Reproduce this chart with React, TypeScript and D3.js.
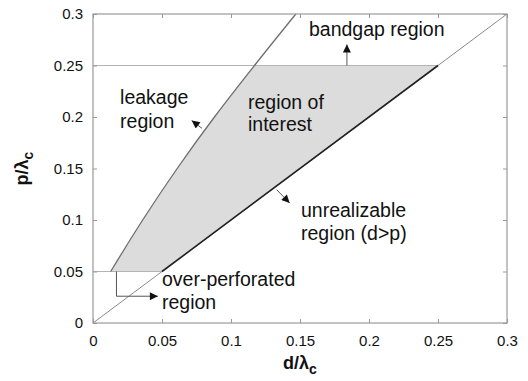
import * as d3 from "d3";
import React, { useEffect, useRef } from "react";

// axis ticks
const xTicks = [0, 0.05, 0.1, 0.15, 0.2, 0.25, 0.3];
const yTicks = [0, 0.05, 0.1, 0.15, 0.2, 0.25, 0.3];

// leakage boundary (d/λc, p/λc)
const leakageD = [0.0128, 0.036, 0.061, 0.088, 0.117, 0.147];
const leakageP = [0.05, 0.1, 0.15, 0.2, 0.25, 0.3];

// horizontal limits
const overPerfP = 0.05;
const bandgapP = 0.25;

// labels: text lines, anchor in data units (d, p of each baseline)
const labelText = [
  ["bandgap region"],
  ["leakage", "region"],
  ["region of", "interest"],
  ["unrealizable", "region (d>p)"],
  ["over-perforated", "region"],
];
const labelD = [0.1565, 0.0196, 0.1123, 0.1507, 0.05];
const labelP = [
  [0.2786],
  [0.2126, 0.1893],
  [0.2078, 0.1864],
  [0.1029, 0.0806],
  [0.0359, 0.0136],
];

// arrows: polyline points in data units, last point is the tip
const arrows: [number, number][][] = [
  [[0.184, 0.25], [0.184, 0.2705]],
  [[0.079, 0.189], [0.0715, 0.1965]],
  [[0.133, 0.1295], [0.1425, 0.1165]],
  [[0.017, 0.05], [0.017, 0.026], [0.047, 0.026]],
];

const W = 528;
const H = 381;
const margin = { top: 14, right: 21, bottom: 58, left: 93 };
const FONT = "'Liberation Sans', Arial, Helvetica, sans-serif";

const App: React.FC = () => {
  const svgRef = useRef<SVGSVGElement>(null);

  useEffect(() => {
    const svg = d3.select(svgRef.current);
    svg.selectAll("*").remove();

    const innerW = W - margin.left - margin.right;
    const innerH = H - margin.top - margin.bottom;

    const x = d3.scaleLinear().domain([0, 0.3]).range([0, innerW]);
    const y = d3.scaleLinear().domain([0, 0.3]).range([innerH, 0]);

    const defs = svg.append("defs");
    defs
      .append("marker")
      .attr("id", "head")
      .attr("viewBox", "0 0 10 10")
      .attr("refX", 10)
      .attr("refY", 5)
      .attr("markerWidth", 10)
      .attr("markerHeight", 8)
      .attr("markerUnits", "userSpaceOnUse")
      .attr("orient", "auto")
      .append("path")
      .attr("d", "M0,0 L10,5 L0,10 Z")
      .attr("fill", "#111");

    const g = svg.append("g").attr("transform", `translate(${margin.left},${margin.top})`);

    // shaded region of interest
    const curve = leakageD.map((d, i) => [d, leakageP[i]] as [number, number]);
    const inside = curve.filter((c) => c[1] >= overPerfP && c[1] <= bandgapP);
    const poly: [number, number][] = [...inside, [bandgapP, bandgapP], [overPerfP, overPerfP]];
    g.append("path")
      .attr("d", d3.line<[number, number]>().x((d) => x(d[0])).y((d) => y(d[1])).curve(d3.curveLinearClosed)(poly))
      .attr("fill", "#dcdcdc")
      .attr("stroke", "none");

    // horizontal limits
    g.append("line")
      .attr("x1", 0)
      .attr("x2", x(bandgapP))
      .attr("y1", y(bandgapP))
      .attr("y2", y(bandgapP))
      .attr("stroke", "#b4b4b4")
      .attr("stroke-width", 1.2);
    g.append("line")
      .attr("x1", 0)
      .attr("x2", x(overPerfP))
      .attr("y1", y(overPerfP))
      .attr("y2", y(overPerfP))
      .attr("stroke", "#b4b4b4")
      .attr("stroke-width", 1.2);

    // d = p line
    g.append("line")
      .attr("x1", x(0))
      .attr("y1", y(0))
      .attr("x2", x(0.3))
      .attr("y2", y(0.3))
      .attr("stroke", "#8a8a8a")
      .attr("stroke-width", 1);
    g.append("line")
      .attr("x1", x(overPerfP))
      .attr("y1", y(overPerfP))
      .attr("x2", x(bandgapP))
      .attr("y2", y(bandgapP))
      .attr("stroke", "#222")
      .attr("stroke-width", 1.6);

    // leakage curve
    g.append("path")
      .attr("d", d3.line<[number, number]>().x((d) => x(d[0])).y((d) => y(d[1])).curve(d3.curveCatmullRom)(curve))
      .attr("fill", "none")
      .attr("stroke", "#6e6e6e")
      .attr("stroke-width", 1.3);

    // axes: ticks inward on all four sides
    const tickStyle = (sel: d3.Selection<SVGGElement, unknown, null, undefined>) => {
      sel.select(".domain").remove();
      sel.selectAll(".tick line").attr("stroke", "#999");
      sel
        .selectAll(".tick text")
        .attr("font-family", FONT)
        .attr("font-size", 15)
        .attr("fill", "#111");
    };
    g.append("g")
      .attr("transform", `translate(0,${innerH})`)
      .call(d3.axisBottom(x).tickValues(xTicks).tickSize(-4).tickPadding(12).tickFormat((d) => String(+d)))
      .call(tickStyle);
    g.append("g")
      .call(d3.axisLeft(y).tickValues(yTicks).tickSize(-4).tickPadding(10).tickFormat((d) => String(+d)))
      .call(tickStyle);
    g.append("g").call(d3.axisTop(x).tickValues(xTicks).tickSize(-4).tickFormat(() => "")).call(tickStyle);
    g.append("g")
      .attr("transform", `translate(${innerW},0)`)
      .call(d3.axisRight(y).tickValues(yTicks).tickSize(-4).tickFormat(() => ""))
      .call(tickStyle);

    g.append("rect")
      .attr("width", innerW)
      .attr("height", innerH)
      .attr("fill", "none")
      .attr("stroke", "#999")
      .attr("stroke-width", 1.2);

    // arrows
    arrows.forEach((pts) => {
      g.append("path")
        .attr("d", d3.line<[number, number]>().x((d) => x(d[0])).y((d) => y(d[1]))(pts))
        .attr("fill", "none")
        .attr("stroke", "#555")
        .attr("stroke-width", 1)
        .attr("marker-end", "url(#head)");
    });

    // labels
    labelText.forEach((lines, i) => {
      lines.forEach((t, j) => {
        g.append("text")
          .attr("x", x(labelD[i]))
          .attr("y", y(labelP[i][j]))
          .attr("font-family", FONT)
          .attr("font-size", 19.5)
          .attr("fill", "#111")
          .text(t);
      });
    });

    // axis titles
    const xt = svg
      .append("text")
      .attr("x", margin.left + x(0.15))
      .attr("y", 369)
      .attr("text-anchor", "middle")
      .attr("font-family", FONT)
      .attr("font-size", 18)
      .attr("font-weight", "bold")
      .attr("fill", "#111");
    xt.append("tspan").text("d/λ");
    xt.append("tspan").attr("dy", 5).attr("font-size", 14).text("c");

    const yt = svg
      .append("text")
      .attr("transform", `translate(28,${margin.top + y(0.15)}) rotate(-90)`)
      .attr("text-anchor", "middle")
      .attr("font-family", FONT)
      .attr("font-size", 18)
      .attr("font-weight", "bold")
      .attr("fill", "#111");
    yt.append("tspan").text("p/λ");
    yt.append("tspan").attr("dy", 5).attr("font-size", 14).text("c");
  }, []);

  return (
    <svg
      ref={svgRef}
      width={W}
      height={H}
      style={{ position: "absolute", left: 0, top: 0, background: "#fff" }}
    ></svg>
  );
};

export default App;
